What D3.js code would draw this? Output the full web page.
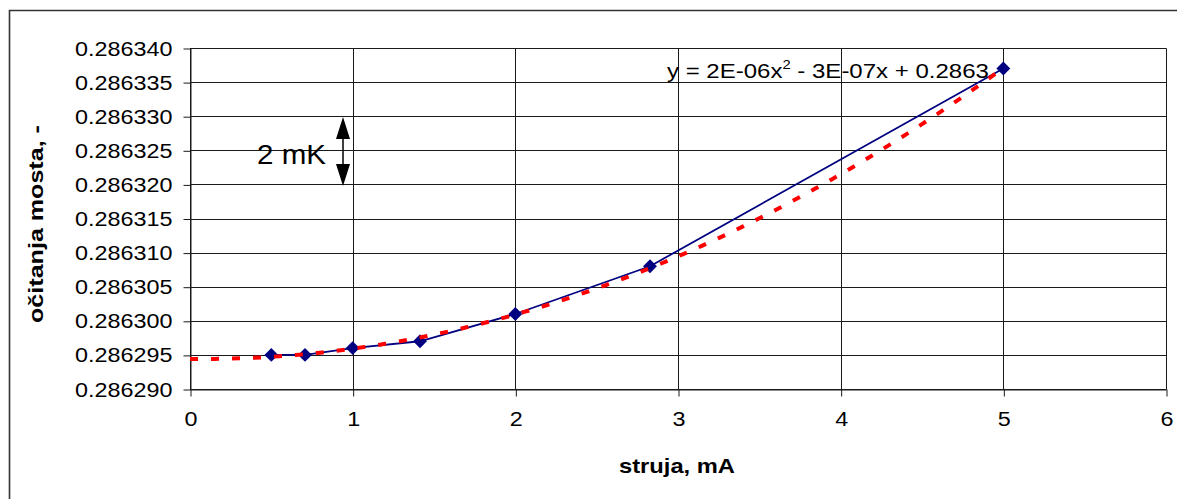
<!DOCTYPE html>
<html>
<head>
<meta charset="utf-8">
<script src="https://cdn.jsdelivr.net/npm/d3@7"></script>
<style>
  html, body { margin: 0; padding: 0; background: #fff; }
  svg { display: block; font-family: "Liberation Sans", Arial, sans-serif; }
</style>
</head>
<body>
<svg id="chart" width="1177" height="499"></svg>
<script>
// ---- data ----
const currents = [0.5, 0.707, 1.0, 1.414, 2.0, 2.828, 5.0];          // struja, mA
const readings = [0.286295, 0.286295, 0.286296, 0.286297, 0.286301, 0.286308, 0.286337];
const xTicks = [0, 1, 2, 3, 4, 5, 6];
const yTicks = [0.286290, 0.286295, 0.286300, 0.286305, 0.286310, 0.286315,
                0.286320, 0.286325, 0.286330, 0.286335, 0.286340];
const trendRange = [0, 5];
const equationParts = ["y = 2E-06x", "2", " - 3E-07x + 0.2863"];
const xTitle = "struja, mA";
const yTitle = "očitanja mosta, -";
const noteLabel = "2 mK";

// ---- quadratic least-squares trendline fitted to the data ----
function polyfit2(xs, ys) {
  const y0 = d3.mean(ys);
  const S = Array.from({length: 5}, (_, k) => d3.sum(xs, x => Math.pow(x, k)));
  const T = Array.from({length: 3}, (_, k) => d3.sum(xs, (x, i) => Math.pow(x, k) * (ys[i] - y0)));
  const M = [[S[0], S[1], S[2], T[0]], [S[1], S[2], S[3], T[1]], [S[2], S[3], S[4], T[2]]];
  for (let i = 0; i < 3; i++) {
    for (let j = i + 1; j < 3; j++) {
      const f = M[j][i] / M[i][i];
      for (let k = i; k < 4; k++) M[j][k] -= f * M[i][k];
    }
  }
  const r = [0, 0, 0];
  for (let i = 2; i >= 0; i--) {
    let s = M[i][3];
    for (let k = i + 1; k < 3; k++) s -= M[i][k] * r[k];
    r[i] = s / M[i][i];
  }
  return x => y0 + r[0] + r[1] * x + r[2] * x * x;
}
const fit = polyfit2(currents, readings);
const trendX = d3.range(trendRange[0], trendRange[1] + 1e-9, 0.05);

// ---- layout ----
const svg = d3.select("#chart");
const x = d3.scaleLinear().domain([0, 6]).range([190, 1166]);
const y = d3.scaleLinear().domain([0.286290, 0.286340]).range([389, 48]);
const px = v => Math.round(x(v)) + 0.5;
const py = v => Math.round(y(v)) + 0.5;

// outer chart frame (only left & top edges are inside the picture)
svg.append("path")
  .attr("d", "M9.5,499V10.5H1177")
  .attr("fill", "none").attr("stroke", "#333").attr("stroke-width", 1.6);

// gridlines
const grid = svg.append("g");
grid.selectAll("line.h").data(yTicks).join("line")
  .attr("x1", x(0)).attr("x2", x(6) + 0.5)
  .attr("y1", d => py(d)).attr("y2", d => py(d))
  .attr("stroke", "#1a1a1a").attr("stroke-width", 1);
grid.selectAll("line.v").data(xTicks).join("line")
  .attr("x1", d => px(d)).attr("x2", d => px(d))
  .attr("y1", py(0.286340)).attr("y2", py(0.286290))
  .attr("stroke", "#1a1a1a").attr("stroke-width", 1);

// axes with d3 axis generators
const tickFont = 20.5, tickStretch = 1.14;
const yAxis = svg.append("g")
  .attr("transform", `translate(${px(0)},0)`)
  .call(d3.axisLeft(y).tickValues(yTicks).tickSize(7).tickPadding(11)
        .tickFormat(d3.format(".6f")).tickSizeOuter(0));
yAxis.select(".domain").attr("stroke", "#1a1a1a");
yAxis.selectAll(".tick line").attr("stroke", "#1a1a1a").attr("transform", "translate(0,0.5)");
yAxis.selectAll(".tick text")
  .attr("font-size", tickFont).attr("fill", "#000")
  .attr("font-family", "Liberation Sans, Arial, sans-serif")
  .each(function () {
    const t = d3.select(this);
    const xx = +t.attr("x");
    t.attr("x", 0).attr("transform", `translate(${xx},0.5) scale(${tickStretch},1)`);
  });

const xAxis = svg.append("g")
  .attr("transform", `translate(0,${py(0.286290)})`)
  .call(d3.axisBottom(x).tickValues(xTicks).tickSize(7).tickPadding(16)
        .tickFormat(d3.format("d")).tickSizeOuter(0));
xAxis.select(".domain").attr("stroke", "#1a1a1a");
xAxis.selectAll(".tick line").attr("stroke", "#1a1a1a").attr("transform", "translate(0.5,0)");
xAxis.selectAll(".tick text")
  .attr("font-size", tickFont).attr("fill", "#000")
  .attr("font-family", "Liberation Sans, Arial, sans-serif")
  .each(function () {
    const t = d3.select(this);
    const yy = +t.attr("y");
    t.attr("y", 0).attr("transform", `translate(0.5,${yy - 1}) scale(${tickStretch},1)`);
  });

// data series: straight segments + diamonds
const pts = currents.map((c, i) => [c, readings[i]]);
svg.append("path")
  .datum(pts)
  .attr("d", d3.line().x(d => x(d[0])).y(d => y(d[1])))
  .attr("fill", "none").attr("stroke", "#000080").attr("stroke-width", 1.8);

svg.append("g").selectAll("path").data(pts).join("path")
  .attr("d", d3.symbol(d3.symbolSquare, 96))
  .attr("transform", d => `translate(${x(d[0])},${y(d[1])}) rotate(45)`)
  .attr("fill", "#000080");

// polynomial trendline (red, dashed)
svg.append("path")
  .datum(trendX)
  .attr("d", d3.line().x(d => x(d)).y(d => y(fit(d))))
  .attr("fill", "none").attr("stroke", "#ff0000").attr("stroke-width", 4)
  .attr("stroke-dasharray", "8,13");

// helper: text stretched horizontally to a target width
function fitted(parent, str, opts) {
  const g = parent.append("g");
  const t = g.append("text")
    .attr("font-size", opts.size)
    .attr("font-weight", opts.weight || "normal")
    .attr("fill", "#000")
    .attr("text-anchor", opts.anchor || "start")
    .text(str);
  const w = t.node().getComputedTextLength();
  const k = opts.width ? opts.width / w : 1;
  g.attr("transform", `translate(${opts.x},${opts.y}) rotate(${opts.rotate || 0}) scale(${k},1)`);
  return t;
}

// equation label
(function () {
  const g = svg.append("g");
  const t = g.append("text").attr("font-size", 21).attr("fill", "#000");
  t.append("tspan").text(equationParts[0]);
  t.append("tspan").attr("font-size", 13).attr("dy", -9).text(equationParts[1]);
  t.append("tspan").attr("dy", 9).text(equationParts[2]);
  const w = t.node().getBBox().width;
  g.attr("transform", `translate(667,78) scale(${322 / w},1)`);
})();

// axis titles
fitted(svg, xTitle, {x: 677, y: 473, size: 21, weight: "bold", anchor: "middle", width: 116});
fitted(svg, yTitle, {x: 43, y: 224, size: 21, weight: "bold", anchor: "middle", width: 198, rotate: -90});

// "2 mK" annotation with double arrow
fitted(svg, noteLabel, {x: 257, y: 164, size: 28, anchor: "start", width: 69});
const ax = 343, aTop = 117, aBot = 186, hw = 7, hh = 22;
svg.append("line").attr("x1", ax).attr("x2", ax).attr("y1", aTop + hh - 2).attr("y2", aBot - hh + 2)
  .attr("stroke", "#000").attr("stroke-width", 1.5);
svg.append("path")
  .attr("d", `M${ax},${aTop}L${ax + hw},${aTop + hh}L${ax - hw},${aTop + hh}Z` +
             `M${ax},${aBot}L${ax + hw},${aBot - hh}L${ax - hw},${aBot - hh}Z`)
  .attr("fill", "#000");
</script>
</body>
</html>
